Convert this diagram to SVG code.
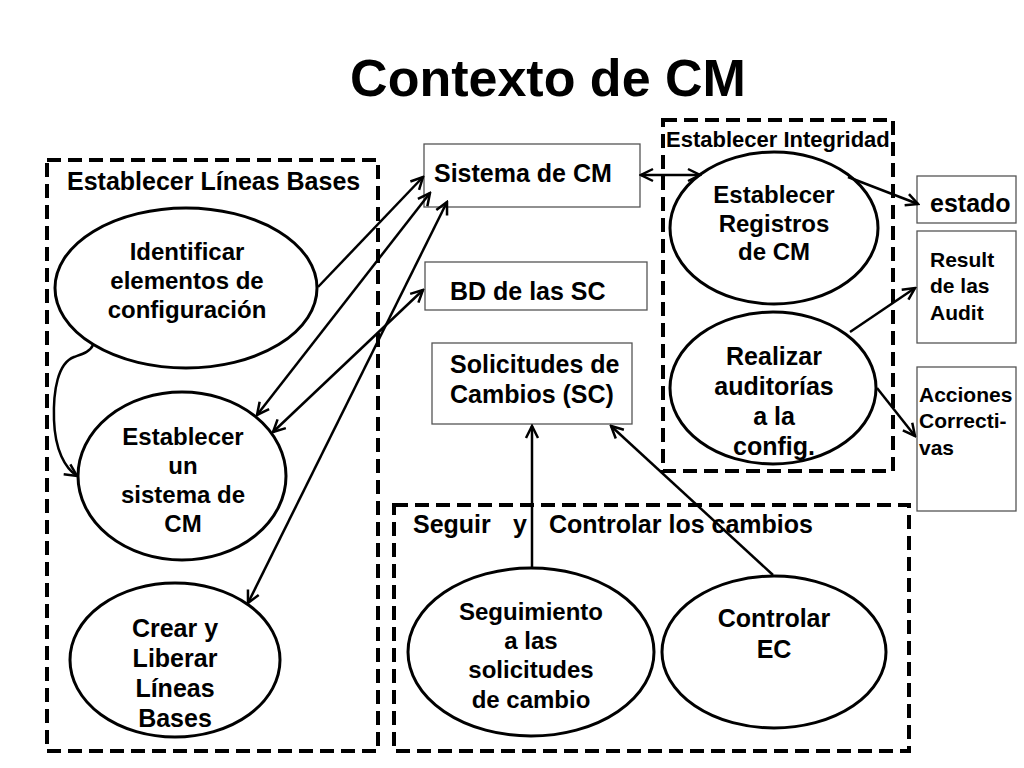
<svg xmlns="http://www.w3.org/2000/svg" width="1024" height="768" viewBox="0 0 1024 768">
<defs>
<style>
text{font-family:"Liberation Sans",Arial,Helvetica,sans-serif;font-weight:bold;fill:#000}
.t25{font-size:25px}
.t22{font-size:22px}
.t21{font-size:21px}
.mid{text-anchor:middle}
.ell{fill:#fff;stroke:#000;stroke-width:3}
.box{fill:#fff;stroke:#555;stroke-width:1.3}
.dash{fill:none;stroke:#000;stroke-width:4;stroke-dasharray:14 7}
.con{fill:none;stroke:#000;stroke-width:2.5}
</style>
<marker id="ah" viewBox="-14 -8 16 16" refX="0" refY="0" markerWidth="16" markerHeight="16" markerUnits="userSpaceOnUse" orient="auto-start-reverse">
<path d="M-12,-6 L0,0 L-12,6" fill="none" stroke="#000" stroke-width="2.5"/>
</marker>
</defs>
<rect width="1024" height="768" fill="#fff"/>
<text x="548" y="96" class="mid" style="font-size:52px">Contexto de CM</text>

<g id="grp-lineas-bases">
<rect class="dash" x="47" y="160" width="331" height="591"/>
<text x="67" y="190" class="t25">Establecer Líneas Bases</text>
</g>
<g id="grp-integridad">
<rect class="dash" x="663" y="120" width="230" height="351"/>
<text x="666" y="147" class="t22">Establecer Integridad</text>
</g>
<g id="grp-seguir">
<rect class="dash" x="394" y="505" width="515" height="246"/>
<text y="533" class="t25"><tspan x="413">Seguir</tspan><tspan x="513">y</tspan><tspan x="549">Controlar los cambios</tspan></text>
</g>

<g id="n-identificar">
<ellipse class="ell" cx="186" cy="288" rx="131" ry="80"/>
<text class="t25 mid" x="187" y="260" style="font-size:24px">Identificar</text>
<text class="t25 mid" x="187" y="289" style="font-size:24px">elementos de</text>
<text class="t25 mid" x="187" y="318" style="font-size:24px">configuración</text>
</g>
<g id="n-establecer-sistema">
<ellipse class="ell" cx="182" cy="476" rx="104" ry="84"/>
<text class="mid" x="183" y="445" style="font-size:24px">Establecer</text>
<text class="mid" x="183" y="474" style="font-size:24px">un</text>
<text class="mid" x="183" y="503" style="font-size:24px">sistema de</text>
<text class="mid" x="183" y="532" style="font-size:24px">CM</text>
</g>
<g id="n-crear">
<ellipse class="ell" cx="175" cy="660" rx="105" ry="77"/>
<text class="t25 mid" x="175" y="637">Crear y</text>
<text class="t25 mid" x="175" y="667">Liberar</text>
<text class="t25 mid" x="175" y="697">Líneas</text>
<text class="t25 mid" x="175" y="727">Bases</text>
</g>

<g id="n-sistema">
<rect class="box" x="424" y="144" width="216" height="63"/>
<text class="t25" x="434" y="182">Sistema de CM</text>
</g>
<g id="n-bd">
<rect class="box" x="425" y="262" width="222" height="48"/>
<text class="t25" x="450" y="300">BD de las SC</text>
</g>
<g id="n-solicitudes">
<rect class="box" x="432" y="343" width="200" height="81"/>
<text class="t25" x="450" y="373">Solicitudes de</text>
<text class="t25" x="450" y="403">Cambios (SC)</text>
</g>

<g id="n-registros">
<ellipse class="ell" cx="774" cy="228" rx="104" ry="76"/>
<text class="mid" x="774" y="203" style="font-size:24px">Establecer</text>
<text class="mid" x="774" y="232" style="font-size:24px">Registros</text>
<text class="mid" x="774" y="260" style="font-size:24px">de CM</text>
</g>
<g id="n-auditorias">
<ellipse class="ell" cx="773" cy="388" rx="103" ry="76"/>
<text class="t25 mid" x="774" y="365">Realizar</text>
<text class="t25 mid" x="774" y="395">auditorías</text>
<text class="t25 mid" x="774" y="425">a la</text>
<text class="t25 mid" x="774" y="455">config.</text>
</g>

<g id="n-estado">
<rect class="box" x="917" y="176" width="99" height="47"/>
<text class="t25" x="930" y="212">estado</text>
</g>
<g id="n-result">
<rect class="box" x="917" y="231" width="99" height="112"/>
<text class="t21" x="930" y="267">Result</text>
<text class="t21" x="930" y="293">de las</text>
<text class="t21" x="930" y="320">Audit</text>
</g>
<g id="n-acciones">
<rect class="box" x="917" y="367" width="99" height="144"/>
<text class="t21" x="919" y="402">Acciones</text>
<text class="t21" x="919" y="428">Correcti-</text>
<text class="t21" x="919" y="455">vas</text>
</g>

<g id="n-seguimiento">
<ellipse class="ell" cx="531" cy="652" rx="123" ry="84"/>
<text class="mid" x="531" y="620" style="font-size:24px">Seguimiento</text>
<text class="mid" x="531" y="649" style="font-size:24px">a las</text>
<text class="mid" x="531" y="678" style="font-size:24px">solicitudes</text>
<text class="mid" x="531" y="708" style="font-size:24px">de cambio</text>
</g>
<g id="n-controlar">
<ellipse class="ell" cx="774" cy="652" rx="112" ry="76"/>
<text class="t25 mid" x="774" y="627">Controlar</text>
<text class="t25 mid" x="774" y="658">EC</text>
</g>

<g id="connectors">
<path class="con" d="M318,287 L423,177" marker-end="url(#ah)"/>
<path class="con" d="M430,193 L257,415" marker-start="url(#ah)" marker-end="url(#ah)"/>
<path class="con" d="M423,290 L273,432" marker-start="url(#ah)" marker-end="url(#ah)"/>
<path class="con" d="M447,202 L248,603" marker-start="url(#ah)" marker-end="url(#ah)"/>
<path class="con" d="M93,345 C90,352 82,354 74,357 C58,363 53,390 54,420 C55,450 65,468 77,476" marker-end="url(#ah)"/>
<path class="con" d="M641,175 L700,175" marker-start="url(#ah)" marker-end="url(#ah)"/>
<path class="con" d="M848,177 L918,204" marker-end="url(#ah)"/>
<path class="con" d="M850,332 L915,288" marker-end="url(#ah)"/>
<path class="con" d="M877,388 L915,436" marker-end="url(#ah)"/>
<path class="con" d="M532,567 L532,426" marker-end="url(#ah)"/>
<path class="con" d="M773,575 L611,426" marker-end="url(#ah)"/>
</g>
</svg>
